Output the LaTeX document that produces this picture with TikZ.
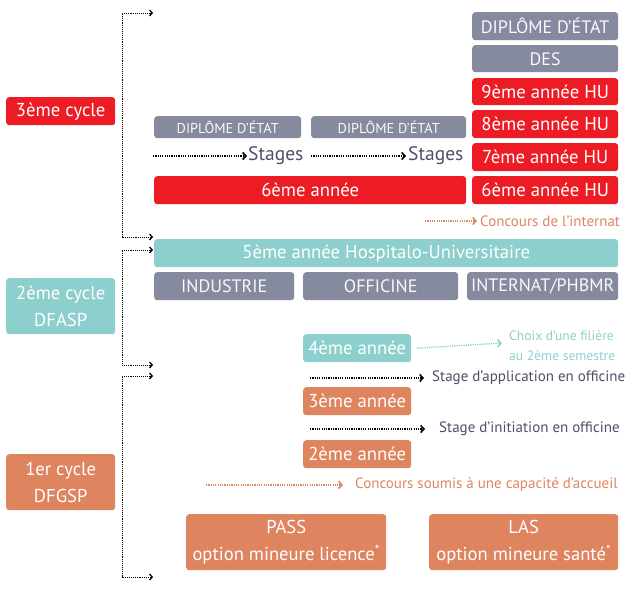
\documentclass[tikz,border=0pt]{standalone}
\usepackage{fontspec}
\setmainfont{PT Sans}
\usetikzlibrary{arrows.meta}
\definecolor{cred}{HTML}{ED1C24}
\definecolor{cgray}{HTML}{858A9E}
\definecolor{cteal}{HTML}{8DCFCC}
\definecolor{corange}{HTML}{DE845F}
\definecolor{ctext}{HTML}{4B5068}
\tikzset{
  box/.style={rounded corners=3pt, text=white, inner sep=0pt, anchor=north west, align=center, font=\fontsize{18.7}{22}\selectfont},
  capbox/.style={font=\fontsize{18}{22}\selectfont},
  twoline/.style={font=\fontsize{18.6}{27}\selectfont},
  redbox/.style={box, fill=cred},
  graybox/.style={box, fill=cgray, text=white!95!cgray},
  tealbox/.style={box, fill=cteal},
  orbox/.style={box, fill=corange},
  dotarrow/.style={line width=1.4pt, dash pattern=on 1.2pt off 1.1pt, -{Straight Barb[length=3.2pt,width=7pt,line width=1.6pt]}},
  bracket/.style={line width=1pt, dash pattern=on 1pt off 0.9pt, {Straight Barb[length=2.6pt,width=6pt,line width=1.3pt]}-{Straight Barb[length=2.6pt,width=6pt,line width=1.3pt]}},
  lbl/.style={inner sep=0pt, anchor=west, font=\fontsize{15}{18}\selectfont},
}
\begin{document}
\begin{tikzpicture}[x=1pt,y=-1pt]
\useasboundingbox (0,0) rectangle (640,600);
% cycles
\node[redbox, minimum width=109pt, minimum height=28pt] (c3) at (6,97) {3ème cycle};
\node[tealbox, twoline, minimum width=109pt, minimum height=56pt] (c2) at (6,278) {2ème cycle\\DFASP};
\node[orbox, twoline, minimum width=109pt, minimum height=56pt] (c1) at (6,454) {1er cycle\\DFGSP};
% right column
\node[graybox, capbox, minimum width=146pt, minimum height=28pt] (de1) at (472,12) {DIPLÔME D’ÉTAT};
\node[graybox, capbox, minimum width=146pt, minimum height=27pt] (des) at (472,45) {DES};
\node[redbox, minimum width=146pt, minimum height=27pt] (a9) at (472,78) {9ème année HU};
\node[redbox, minimum width=146pt, minimum height=28pt] (a8) at (472,110) {8ème année HU};
\node[redbox, minimum width=146pt, minimum height=28pt] (a7) at (472,143) {7ème année HU};
\node[redbox, minimum width=146pt, minimum height=28pt] (a6hu) at (472,176) {6ème année HU};
% left of 3rd cycle
\node[graybox, minimum width=147pt, minimum height=22pt, font=\fontsize{14.3}{16}\selectfont] (de2) at (154,116) {DIPLÔME D’ÉTAT};
\node[graybox, minimum width=155pt, minimum height=22pt, font=\fontsize{14.3}{16}\selectfont] (de3) at (311,116) {DIPLÔME D’ÉTAT};
\node[redbox, minimum width=312pt, minimum height=28pt] (a6) at (154,176) {6ème année};
\coordinate (s1a) at (153,156);
\node[lbl, text=ctext, font=\fontsize{19.5}{20}\selectfont] (s1) at (248,156) {Stages};
\coordinate (s2a) at (311,156);
\node[lbl, text=ctext, font=\fontsize{19.5}{20}\selectfont] (s2) at (408,156) {Stages};
\draw[dotarrow] (s1a) -- ([xshift=-1pt]s1.west);
\draw[dotarrow] (s2a) -- ([xshift=-2pt]s2.west);
\coordinate (ci) at (425,221);
\node[lbl, text=corange] (cit) at (480,221) {Concours de l’internat};
\draw[dotarrow, corange] (ci) -- ([xshift=-3pt]cit.west);
% 2nd cycle
\node[tealbox, minimum width=464pt, minimum height=28pt] (a5) at (154,239) {5ème année Hospitalo-Universitaire};
\node[graybox, capbox, minimum width=140pt, minimum height=28pt] (ind) at (154,272) {INDUSTRIE};
\node[graybox, capbox, minimum width=155pt, minimum height=28pt] (off) at (303,272) {OFFICINE};
\node[graybox, capbox, minimum width=151pt, minimum height=28pt] (int) at (467,272) {INTERNAT/PHBMR};
\node[tealbox, minimum width=108pt, minimum height=28pt] (a4) at (303,334) {4ème année};
\node[inner sep=0pt, anchor=west, align=left, text=cteal, font=\fontsize{13.6}{20}\selectfont] (choix) at (509,346) {Choix d’une filière\\au 2ème semestre};
\draw[dotarrow, cteal] ([xshift=6pt]a4.east) -- ([xshift=-7pt,yshift=3pt]choix.west);
% 1st cycle
\coordinate (sa) at (310,378);
\node[lbl, text=ctext] (sat) at (432,378) {Stage d’application en officine};
\draw[dotarrow] (sa) -- ([xshift=-8pt]sat.west);
\node[orbox, minimum width=108pt, minimum height=28pt] (a3) at (303,387) {3ème année};
\coordinate (si) at (310,429);
\node[lbl, text=ctext] (sit) at (439,429) {Stage d’initiation en officine};
\draw[dotarrow] (si) -- ([xshift=-14pt]sit.west);
\node[orbox, minimum width=108pt, minimum height=28pt] (a2) at (303,440) {2ème année};
\coordinate (cs) at (206,485);
\node[lbl, text=corange] (cst) at (355,485) {Concours soumis à une capacité d’accueil};
\draw[dotarrow, corange] (cs) -- ([xshift=-12pt]cst.west);
\node[orbox, twoline, minimum width=200pt, minimum height=56pt] (pass) at (186,514) {PASS\\option mineure licence\textsuperscript{*}};
\node[orbox, twoline, minimum width=189pt, minimum height=56pt] (las) at (429,514) {LAS\\option mineure santé\textsuperscript{*}};
% brackets
\coordinate (b3t) at (122,13); \coordinate (b3te) at (153,13);
\coordinate (b3b) at (122,237); \coordinate (b3be) at (153,237);
\draw[bracket] (b3te) -- (b3t) -- (b3b) -- (b3be);
\coordinate (b2t) at (122,250); \coordinate (b2te) at (153,250);
\coordinate (b2b) at (122,365); \coordinate (b2be) at (153,365);
\draw[bracket] (b2te) -- (b2t) -- (b2b) -- (b2be);
\coordinate (b1t) at (122,376); \coordinate (b1te) at (153,376);
\coordinate (b1b) at (122,577); \coordinate (b1be) at (153,577);
\draw[bracket] (b1te) -- (b1t) -- (b1b) -- (b1be);
\end{tikzpicture}
\end{document}
